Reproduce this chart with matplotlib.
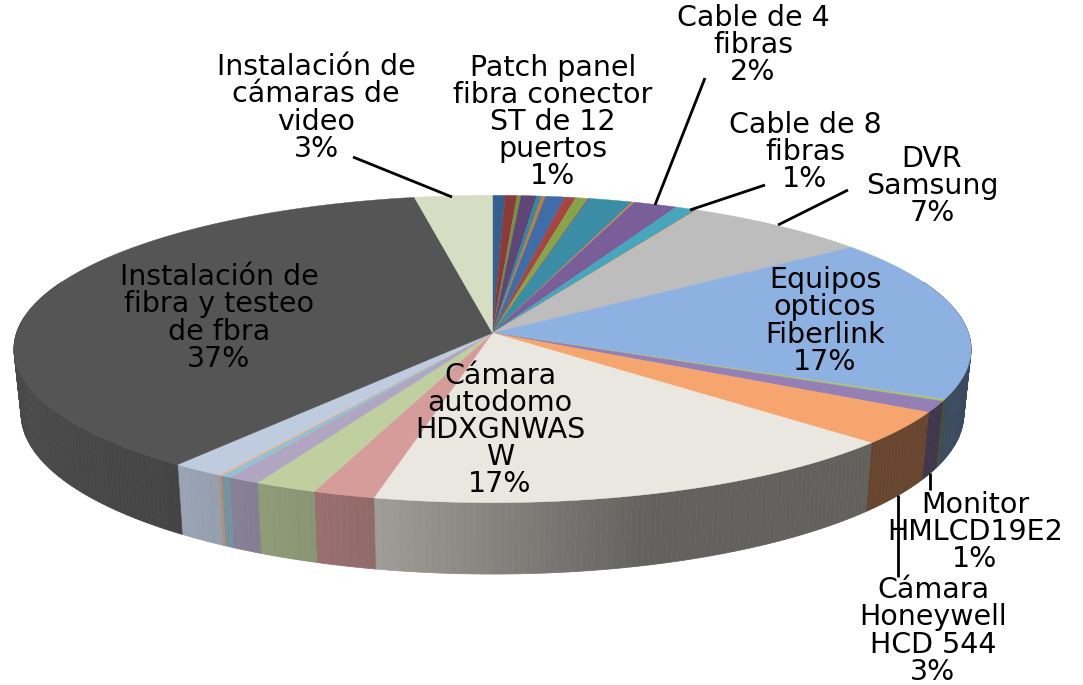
import numpy as np
import matplotlib
matplotlib.use("Agg")
import matplotlib.pyplot as plt
from matplotlib.patches import Polygon

W, H = 1083, 685

# Slice shares (percent), clockwise from 12 o'clock
values = [0.47, 0.44, 0.15, 0.58, 0.19, 0.14, 0.72, 0.41, 0.47, 0.05, 1.62, 0.08,
          1.64, 0.80, 0.05, 7.00, 17.10, 0.20, 1.20, 3.50, 16.90, 1.90, 1.90, 1.00,
          0.30, 0.10, 1.60, 36.80, 2.90]
colors = ["#33608F", "#8C3A38", "#74913F", "#5E4777", "#338AA0", "#C97A30", "#3E6DA8",
          "#A84543", "#86A448", "#6D5690", "#3B8CA5", "#D08A3C", "#7A5E99", "#45A6BE",
          "#F59B4A", "#BDBDBD", "#8DB1E0", "#A8C46E", "#9580B5", "#F5A56D", "#E9E7DF",
          "#D59C9A", "#BFCFA0", "#B0A6C2", "#96BFD0", "#EDB58F", "#BFCCE0", "#555555",
          "#D5DEC3"]

labels = ["Instalación de\ncámaras de\nvideo\n3%",
          "Patch panel\nfibra conector\nST de 12\npuertos\n1%",
          "Cable de 4\nfibras\n2%",
          "Cable de 8\nfibras\n1%",
          "DVR\nSamsung\n7%",
          "Equipos\nopticos\nFiberlink\n17%",
          "Instalación de\nfibra y testeo\nde fbra\n37%",
          "Cámara\nautodomo\nHDXGNWAS\nW\n17%",
          "Monitor\nHMLCD19E2\n1%",
          "Cámara\nHoneywell\nHCD 544\n3%"]
label_x = [316, 553, 753, 805, 932, 825, 219, 500, 975, 933]
label_y = [108, 122, 45, 152, 186, 321, 318, 430, 532, 631]

leaders = [((353, 157), (452, 197)),
           ((705, 78), (655, 205)),
           ((765, 185), (690, 210)),
           ((848, 190), (778, 225)),
           ((930, 473), (930, 490)),
           ((898, 495), (898, 577))]

# Perspective geometry of the disc
cx, cy, a, b, k, depth, inset = 492.5, 333.0, 476.0, 152.0, 0.104, 64.0, 0.985
shade_x = [0, 180, 375, 650, 1000]
shade_f = [0.87, 0.80, 0.68, 0.42, 0.42]


def rim(theta):
    u, v = np.sin(theta), np.cos(theta)
    w = 1 + k * v
    return cx + a * u / w, cy - b * v / w, depth / w


def darken(hex_color, f):
    return tuple(c * f for c in matplotlib.colors.to_rgb(hex_color))


fig = plt.figure(figsize=(W / 100, H / 100), dpi=100)
ax = fig.add_axes([0, 0, 1, 1])
ax.set_xlim(0, W)
ax.set_ylim(H, 0)
ax.axis("off")

edges = np.cumsum([0] + values) / sum(values) * 2 * np.pi

# Side wall, in thin strips so the shading runs left to right
for i, col in enumerate(colors):
    n = max(2, int((edges[i + 1] - edges[i]) / 0.012) + 1)
    t = np.linspace(edges[i], edges[i + 1], n)
    X, Y, D = rim(t)
    XB = cx + (X - cx) * inset
    for j in range(n - 1):
        if np.cos(0.5 * (t[j] + t[j + 1])) > 0.35:
            continue
        f = np.interp(0.5 * (X[j] + X[j + 1]), shade_x, shade_f)
        c = darken(col, f)
        ax.add_patch(Polygon([(X[j], Y[j]), (X[j + 1], Y[j + 1]),
                              (XB[j + 1], Y[j + 1] + D[j + 1]), (XB[j], Y[j] + D[j])],
                             closed=True, facecolor=c, edgecolor=c, lw=0.5, zorder=2))

# Top face
for i, col in enumerate(colors):
    n = max(2, int((edges[i + 1] - edges[i]) / 0.01) + 1)
    X, Y, _ = rim(np.linspace(edges[i], edges[i + 1], n))
    pts = [(cx, cy)] + list(zip(X, Y))
    ax.add_patch(Polygon(pts, closed=True, facecolor=col, edgecolor=col, lw=0.3, zorder=3))

for (p, q) in leaders:
    ax.plot([p[0], q[0]], [p[1], q[1]], color="black", lw=2.0, zorder=4, solid_capstyle="butt")

for s, x, y in zip(labels, label_x, label_y):
    ax.text(x, y, s, ha="center", va="center", ma="center", fontsize=20.5,
            family="DejaVu Sans", linespacing=0.96, color="black", zorder=5)

fig.savefig("out.png", dpi=100)
